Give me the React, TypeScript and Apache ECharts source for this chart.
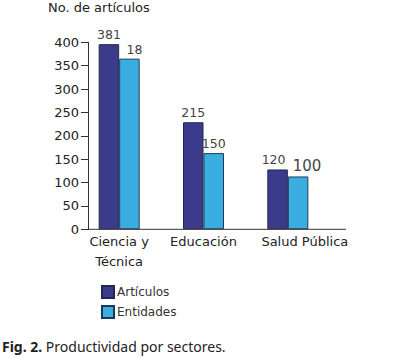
import React, { useEffect, useRef } from "react";
import * as echarts from "echarts";

const categories = ["Ciencia y\nTécnica", "Educación", "Salud Pública"];
const seriesNames = ["Artículos", "Entidades"];
// bar heights as drawn in the picture
const articulosBars = [396, 229, 128];
const entidadesBars = [365, 163, 113];
// printed labels (differ from drawn heights in the original figure)
const articulosLabels = ["381", "215", "120"];
const entidadesLabels = ["18", "150", "100"];
const yTicks = { min: 0, max: 400, interval: 50 };
const yAxisTitle = "No. de artículos";

const FONT = "DejaVu Sans";

export default function App() {
  const ref = useRef<HTMLDivElement>(null);
  useEffect(() => {
    if (!ref.current) return;
    const chart = echarts.init(ref.current, undefined, { renderer: "svg" });
    const labelOffsets: Record<string, number[]> = {
      "1-0": [5, 0],
      "0-2": [-4, 0],
      "1-2": [9, 0],
    };
    const labelSizes: Record<string, number> = { "1-2": 15 };
    const build = (vals: number[], labels: string[], si: number) =>
      vals.map((v, i) => {
        const key = `${si}-${i}`;
        return {
          value: v,
          label: {
            formatter: labels[i],
            offset: labelOffsets[key] || [0, 0],
            fontSize: labelSizes[key] || 12.5,
          },
        };
      });
    chart.setOption({
      animation: false,
      backgroundColor: "#ffffff",
      title: {
        text: yAxisTitle,
        left: 48,
        top: 0,
        padding: [0, 0, 0, 0],
        textStyle: { fontFamily: FONT, fontSize: 13, fontWeight: "normal", color: "#222", lineHeight: 15 },
      },
      grid: { left: 77, right: 90, top: 42.3, bottom: 128.7, containLabel: false },
      legend: {
        orient: "vertical",
        left: 96,
        top: 280,
        itemWidth: 12,
        itemHeight: 12,
        itemGap: 6,
        icon: "rect",
        textStyle: { fontFamily: FONT, fontSize: 12, color: "#333", padding: [0, 0, 0, -2] },
        data: seriesNames,
      },
      xAxis: {
        type: "category",
        data: categories,
        axisLine: { show: false },
        axisTick: { show: false },
        axisLabel: {
          fontFamily: FONT,
          fontSize: 13,
          color: "#222",
          margin: 2,
          lineHeight: 20,
          interval: 0,
          formatter: (v: string) => (v === "Salud Pública" ? "{sp|}" + v : v),
          rich: { sp: { width: 34 } },
        },
      },
      yAxis: {
        type: "value",
        min: yTicks.min,
        max: yTicks.max,
        interval: yTicks.interval,
        offset: -11,
        axisLine: { show: true, lineStyle: { color: "#333", width: 1 } },
        axisTick: { show: true, length: 7, lineStyle: { color: "#333" } },
        axisLabel: { fontFamily: FONT, fontSize: 13, color: "#222", margin: 9 },
        splitLine: { show: false },
      },
      series: [
        {
          name: seriesNames[0],
          type: "bar",
          barWidth: 20.5,
          barGap: "0%",
          itemStyle: { color: "#3c3b8b", borderColor: "#1d2a4e", borderWidth: 1 },
          label: { show: true, position: "top", distance: 3, fontFamily: FONT, color: "#444" },
          data: build(articulosBars, articulosLabels, 0),
        },
        {
          name: seriesNames[1],
          type: "bar",
          barWidth: 20.5,
          barGap: "0%",
          itemStyle: { color: "#3aaee0", borderColor: "#1d3a55", borderWidth: 1 },
          label: { show: true, position: "top", distance: 3, fontFamily: FONT, color: "#444" },
          data: build(entidadesBars, entidadesLabels, 1),
        },
      ],
      graphic: [
        {
          type: "line",
          shape: { x1: 88, y1: 229.3, x2: 346, y2: 229.3 },
          style: { stroke: "#333", lineWidth: 1 },
          z: 10,
        },
        {
          type: "text",
          left: 2,
          top: 339,
          style: {
            text: "{b|Fig. 2.} Productividad por sectores.",
            font: `14px "Noto Sans"`,
            fill: "#222",
            rich: {
              b: { fontFamily: "Noto Sans", fontSize: 14, fontWeight: "bold", fill: "#222" },
            },
          },
        },
      ],
    });
    return () => chart.dispose();
  }, []);
  return <div ref={ref} style={{ width: 420, height: 358, position: "absolute", left: 0, top: 0 }} />;
}
